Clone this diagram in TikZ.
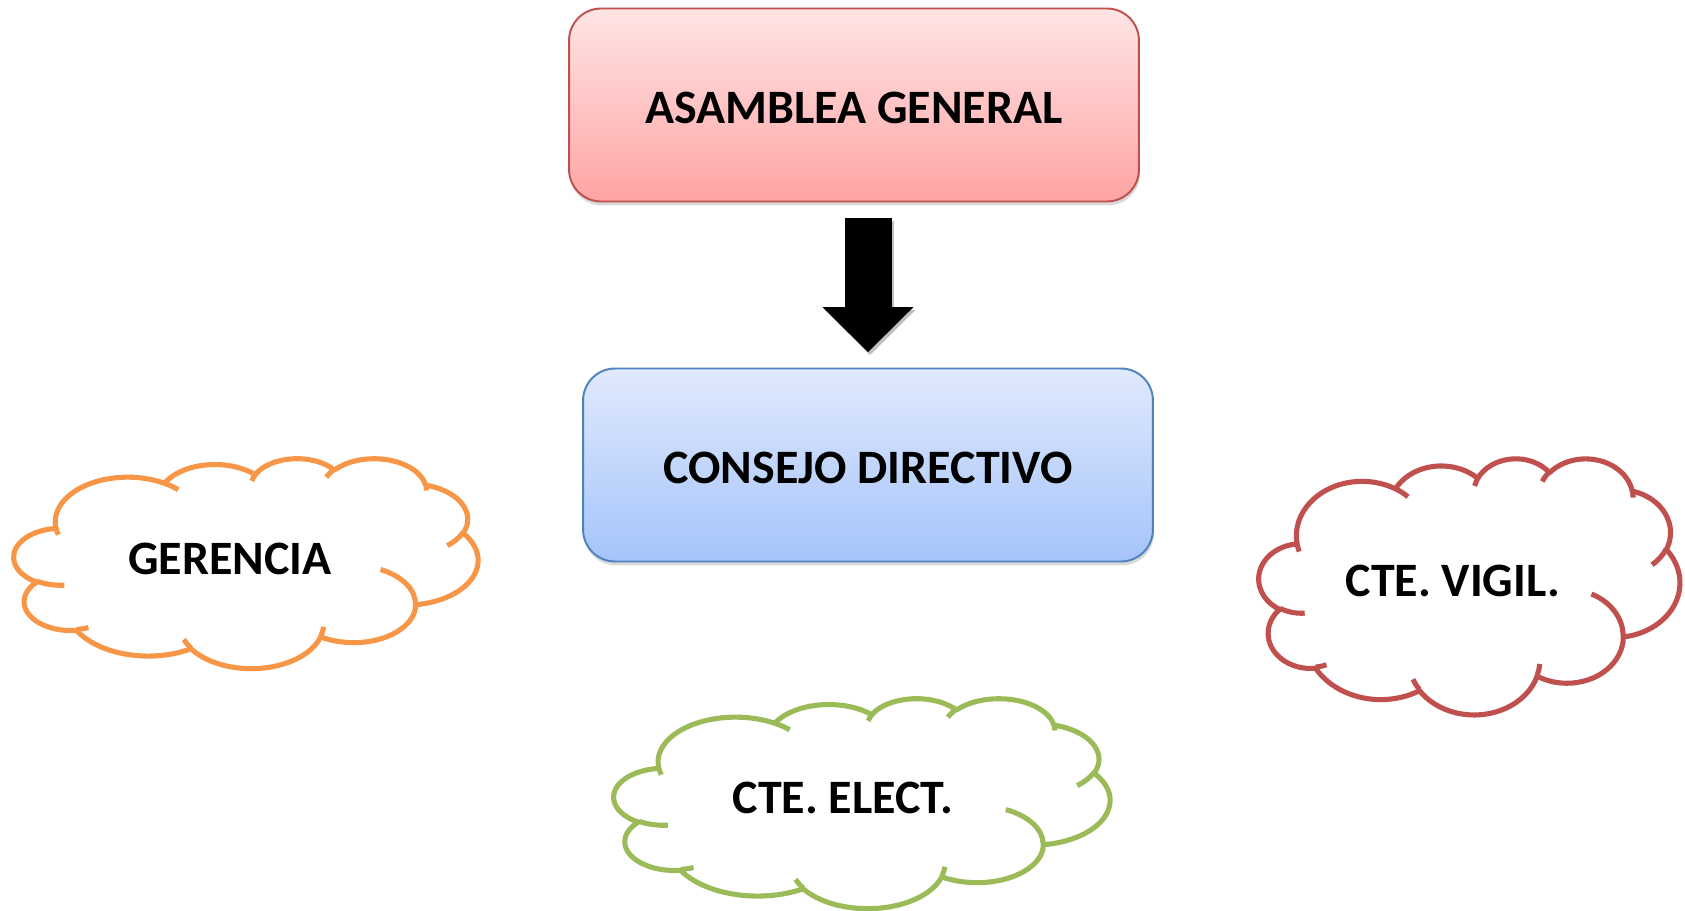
\documentclass[tikz,border=0pt]{standalone}
\usepackage{fontspec}
\setmainfont{Carlito}
\usetikzlibrary{arrows.meta,shadows}

\definecolor{asamtop}{RGB}{255,229,229}
\definecolor{asambot}{RGB}{255,164,164}
\definecolor{asamline}{RGB}{192,80,77}
\definecolor{constop}{RGB}{224,233,253}
\definecolor{consbot}{RGB}{165,196,250}
\definecolor{consline}{RGB}{79,129,189}
\definecolor{gerline}{RGB}{247,150,70}
\definecolor{vigline}{RGB}{192,80,77}
\definecolor{eleline}{RGB}{155,187,89}

% cloud outline, unit box 432 x 432: x radius/y radius/start/sweep
\def\cloudarcs{67.53/91.90/-190.4875/123.7805, 53.33/72.67/-144.1024/89.9452,
  43.65/59.45/-145.8079/99.7230, 48.57/65.95/-130.9861/117.2417,
  53.33/72.73/-78.7089/109.0269, 67.75/92.20/-46.2673/130.2690,
  57.85/78.67/0.6250/114.0333, 67.52/92.15/22.4516/115.1726,
  77.20/105.43/66.2426/75.7110, 43.60/59.18/-274.9421/146.7356,
  43.45/59.45/-246.8285/152.5189}
% inner strokes of the cloud: start x/start y/x radius/y radius/start/sweep
\def\cloudstubs{46.93/261.77/43.45/59.45/86.7420/26.4295,
  69.28/348.99/43.60/59.18/73.6105/11.4475,
  164.78/390.90/67.52/92.15/137.6242/14.0811,
  288.27/347.51/67.52/92.15/6.4533/15.9984,
  341.29/229.54/57.85/78.67/-70.2924/70.9174,
  417.98/153.54/53.33/72.73/30.3180/27.7515,
  383.24/54.26/48.57/65.95/-13.7443/14.8589,
  290.78/39.52/48.57/65.95/-149.1815/18.1954,
  221.41/47.20/43.65/59.45/-163.4943/17.6864,
  140.00/51.92/67.53/91.90/-66.7070/12.3194,
  41.27/157.89/67.53/91.90/157.6544/11.8582}

\begin{document}
\begin{tikzpicture}[x=0.02cm, y=-0.02cm,
    declare function={pang(\rx,\ry,\ang)=\ang+(atan2(\rx*sin(\ang),\ry*cos(\ang))-\ang)-360*round((atan2(\rx*sin(\ang),\ry*cos(\ang))-\ang)/360);},
    box/.style={rounded corners=0.64cm, minimum width=11.4cm, minimum height=3.86cm,
      line width=1.1pt, font=\bfseries\fontsize{27.3}{33}\selectfont,
      text height=20.6pt, text depth=0pt,
      drop shadow={opacity=0.3, shadow xshift=0.02cm, shadow yshift=-0.08cm}},
    cloudline/.style={line width=2.9pt, line join=round},
    cloudtext/.style={font=\bfseries\fontsize{27.3}{33}\selectfont},
    blockarrow/.style={line width=0.94cm, -{Triangle[length=0.9cm, width=1.82cm, line width=0pt]},
      shorten <=0.31cm, shorten >=0.31cm}]
    \useasboundingbox (0,0) rectangle (1685,911);

    \node[box, draw=asamline, top color=asamtop, bottom color=asambot] (asam) at (854,105) {ASAMBLEA GENERAL};
    \node[box, draw=consline, top color=constop, bottom color=consbot] (cons) at (868,465) {CONSEJO DIRECTIVO};
    \draw[blockarrow, black!25, transform canvas={xshift=0.04cm, yshift=-0.06cm}] (cons.north |- asam.south) -- (cons.north);   % shadow
    \draw[blockarrow] (cons.north |- asam.south) -- (cons.north);   % arrow down

    % three clouds: origin x/origin y/unit x/unit y/colour
    \foreach \ox/\oy/\ux/\uy/\col in {14/458/0.021481/0.0097222/gerline,
        1259/458/0.019491/0.011852/vigline, 614/698/0.022963/0.0097222/eleline} {
      \begin{scope}[shift={(\ox,\oy)}, x=\ux cm, y=-\uy cm]
        \draw[cloudline, \col] (39,143.7) \foreach \ra/\rb/\sa/\sw in \cloudarcs
          {arc[x radius=\ra, y radius=\rb, start angle={pang(\ra,\rb,\sa)}, end angle={pang(\ra,\rb,\sa+\sw)}]} -- cycle;
        \foreach \cx/\cy/\ra/\rb/\sa/\sw in \cloudstubs
          \draw[cloudline, \col] (\cx,\cy) arc[x radius=\ra, y radius=\rb, start angle={pang(\ra,\rb,\sa)}, end angle={pang(\ra,\rb,\sa+\sw)}];
      \end{scope}
    }
    \node[cloudtext] (ger) at (229.7,559) {GERENCIA};
    \node[cloudtext] (vig) at (1453,581) {CTE. VIGIL.};
    \node[cloudtext] (ele) at (843,798) {CTE. ELECT.};
\end{tikzpicture}
\end{document}
